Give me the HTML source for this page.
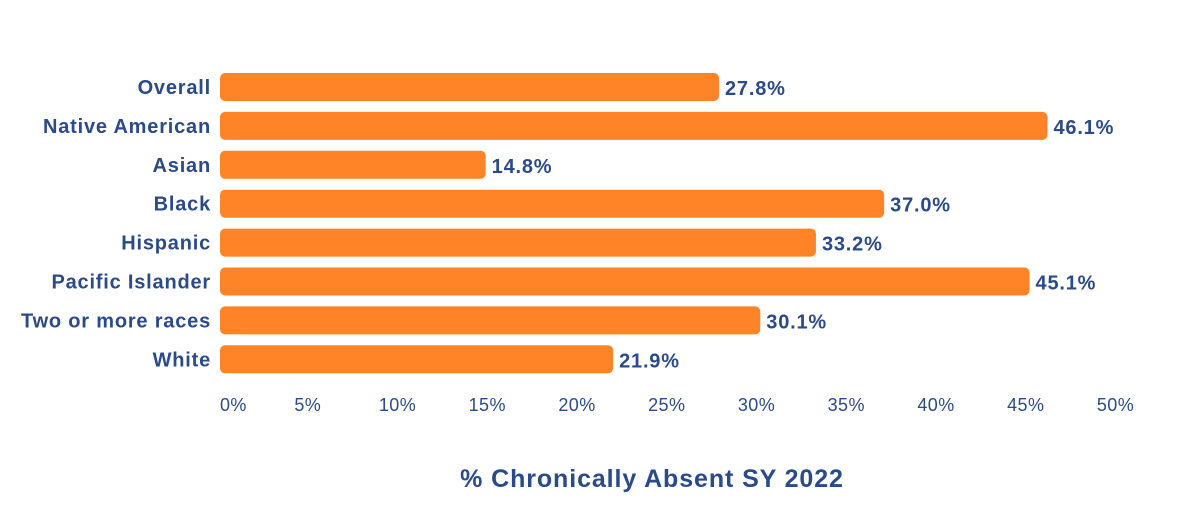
<!DOCTYPE html>
<html><head><meta charset="utf-8"><style>
html,body{margin:0;padding:0;background:#fff;}
svg{display:block;font-family:"Liberation Sans",Arial,sans-serif;}
</style></head><body>
<svg id="chart" width="1200" height="531" viewBox="0 0 1200 531"></svg>
<script>
const categories = ["Overall","Native American","Asian","Black","Hispanic","Pacific Islander","Two or more races","White"];
const values = [27.8,46.1,14.8,37.0,33.2,45.1,30.1,21.9];
const valueLabels = ["27.8%","46.1%","14.8%","37.0%","33.2%","45.1%","30.1%","21.9%"];
const ticks = [0,5,10,15,20,25,30,35,40,45,50];
const tickLabels = ["0%","5%","10%","15%","20%","25%","30%","35%","40%","45%","50%"];

const NS="http://www.w3.org/2000/svg";
const svg=document.getElementById('chart');
const x0=220, pxPer=17.95;
const xs=v=>x0+v*pxPer;
const rowTop=87, rowStep=38.9, barH=28;
const ys=i=>rowTop+i*rowStep;
const blue="#2a4a8a", orange="#ff8428";
function mk(tag,attrs,txt){const e=document.createElementNS(NS,tag);for(const k in attrs)e.setAttribute(k,attrs[k]);if(txt!=null)e.textContent=txt;svg.appendChild(e);return e;}

categories.forEach((c,i)=>{
  const y=ys(i);
  const lab=mk('text',{x:211,y:y+7,'text-anchor':'end','font-size':20,'font-weight':'bold','letter-spacing':0.8,fill:blue},c);
  
  
  const b=mk('rect',{x:x0,y:y-barH/2,width:xs(values[i])-x0,height:barH,rx:5,fill:orange});
  
  
  const v=mk('text',{x:xs(values[i])+6,y:y+8,'font-size':20,'font-weight':'bold','letter-spacing':0.8,fill:blue},valueLabels[i]);
  
  
});
ticks.forEach((t,i)=>{
  const first=i===0;
  const tl=mk('text',{x:first?x0:xs(t)-2,y:411,'text-anchor':first?'start':'middle','font-size':18,'letter-spacing':0.4,fill:blue},tickLabels[i]);
  
  
});
const title=mk('text',{x:652,y:487,'text-anchor':'middle','font-size':25,'font-weight':'bold','letter-spacing':0.9,fill:blue},"% Chronically Absent SY 2022");


</script>
</body></html>
